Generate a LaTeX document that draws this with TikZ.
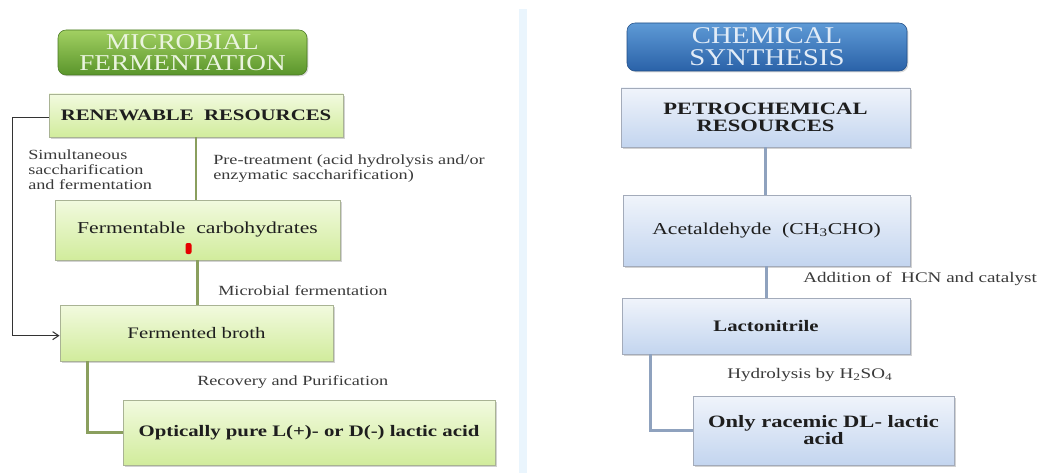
\documentclass[tikz,border=0pt]{standalone}
\usepackage{fontspec}
\setmainfont{Liberation Serif}[FakeStretch=1.3]
\newfontfamily\titlefont{Liberation Serif}[FakeStretch=1.2]
\usetikzlibrary{shadows,arrows.meta}
\definecolor{gtop}{HTML}{F2FADF}
\definecolor{gbot}{HTML}{D1EC9C}
\definecolor{gborder}{HTML}{A9B394}
\definecolor{btop}{HTML}{F0F4FB}
\definecolor{bbot}{HTML}{C3D5EF}
\definecolor{bborder}{HTML}{A3ABBA}
\definecolor{gline}{HTML}{8A9F5E}
\definecolor{bline}{HTML}{8FA2BE}
\definecolor{txt}{HTML}{1E1E1E}
\definecolor{lbl}{HTML}{3A3A3A}
\definecolor{divcol}{HTML}{EAF5FD}
\definecolor{gltop}{HTML}{A2D062}
\definecolor{gdark}{HTML}{5A952B}
\definecolor{gtxt}{HTML}{EAF4DE}
\definecolor{bltop}{HTML}{5E9AD6}
\definecolor{bldark}{HTML}{2A62A8}
\definecolor{btxt}{HTML}{E2ECF7}
\tikzset{
  gbox/.style={rectangle, draw=gborder, line width=0.6pt, top color=gtop, bottom color=gbot,
    inner sep=0pt, align=center, text=txt,
    drop shadow={opacity=0.35, shadow xshift=1.2pt, shadow yshift=-1.2pt}},
  bbox/.style={rectangle, draw=bborder, line width=0.6pt, top color=btop, bottom color=bbot,
    inner sep=0pt, align=center, text=txt,
    drop shadow={opacity=0.35, shadow xshift=1.2pt, shadow yshift=-1.2pt}},
  gtitle/.style={rectangle, rounded corners=6pt, draw=gdark!80!black, line width=0.4pt, top color=gltop, bottom color=gdark,
    inner sep=0pt, align=center, text=gtxt, font=\titlefont\fontsize{17}{15.5}\selectfont,
    drop shadow={opacity=0.3, shadow xshift=1pt, shadow yshift=-1pt}},
  btitle/.style={rectangle, rounded corners=6pt, draw=bldark!80!black, line width=0.4pt, top color=bltop, bottom color=bldark,
    inner sep=0pt, align=center, text=btxt, font=\titlefont\fontsize{18}{16.5}\selectfont,
    drop shadow={opacity=0.3, shadow xshift=1pt, shadow yshift=-1pt}},
  lab/.style={anchor=west, align=left, text=lbl, inner sep=0pt, font=\fontsize{10.5}{11.25}\selectfont},
  gconn/.style={draw=gline, line width=1.8pt},
  bconn/.style={draw=bline, line width=1.8pt},
  kconn/.style={draw=black!80, line width=0.8pt},
}
\begin{document}
\begin{tikzpicture}[x=0.75pt,y=-0.75pt]
\useasboundingbox (0,0) rectangle (1056,474);
\fill[white] (0,0) rectangle (1056,474);
% divider
\fill[divcol] (519,9) rectangle (527,473);

% ---------- left ----------
\node[gtitle, minimum width=186.75pt, minimum height=33.75pt] (mf) at (182.5,52.5) {MICROBIAL\\FERMENTATION};
\node[gbox, minimum width=220.5pt, minimum height=32.25pt, font=\fontsize{12}{12}\selectfont\bfseries] (rr) at (196,115.5) {RENEWABLE\ \ RESOURCES};
\node[gbox, minimum width=213.75pt, minimum height=45pt, font=\fontsize{12.5}{12.5}\selectfont] (fc) at (197.5,230) {Fermentable\ \ carbohydrates};
\node[gbox, minimum width=204.75pt, minimum height=42pt, font=\fontsize{12}{12}\selectfont] (fb) at (196.5,333) {Fermented\ broth};
\node[gbox, minimum width=279pt, minimum height=48.75pt, font=\fontsize{12}{12}\selectfont\bfseries] (op) at (309,432.5) {Optically pure L(+)- or D(-) lactic acid};
\fill[red!90!black, rounded corners=1.5pt] (185.5,243) rectangle (191.5,254);

\node[lab] (l1) at (28,170) {Simultaneous\\saccharification\\and fermentation};
\node[lab] (l2) at (213,168.5) {Pre-treatment (acid hydrolysis and/or\\enzymatic saccharification)};
\node[lab] (l3) at (218,291) {Microbial\ fermentation};
\node[lab] (l4) at (197,382) {Recovery and Purification};

\draw[gconn] (rr.south) -- (rr.south |- fc.north);
\draw[gconn] (fc.south) -- (fc.south |- fb.north);
\draw[gconn] ([xshift=21pt]fb.south west) |- (op.west);
\draw[kconn, -{Straight Barb[length=4.5pt,width=6pt]}] ([yshift=-1.5pt]rr.west) -- ++(-36,0) |- ([yshift=-2pt]fb.west);

% ---------- right ----------
\node[btitle, minimum width=210pt, minimum height=36pt] (cs) at (767,47) {CHEMICAL\\SYNTHESIS};
\node[bbox, minimum width=216.75pt, minimum height=44.25pt, font=\fontsize{13}{12.75}\selectfont\bfseries] (pr) at (765.5,117.5) {PETROCHEMICAL\\RESOURCES};
\node[bbox, minimum width=215.25pt, minimum height=53.25pt, font=\fontsize{12.5}{12.5}\selectfont] (ac) at (766.5,230.5) {Acetaldehyde\ \ (CH\textsubscript{3}CHO)};
\node[bbox, minimum width=216pt, minimum height=42pt, font=\fontsize{12}{12}\selectfont\bfseries] (ln) at (766,326) {Lactonitrile};
\node[bbox, minimum width=195.75pt, minimum height=51.75pt, font=\fontsize{13}{12.75}\selectfont\bfseries] (or) at (823.5,430.5) {Only racemic DL- lactic\\acid};

\node[lab, font=\fontsize{11}{11}\selectfont] (l5) at (803,279) {Addition of\ \ HCN and catalyst};
\node[lab, font=\fontsize{11}{11}\selectfont] (l6) at (727,375) {Hydrolysis by H\textsubscript{2}SO\textsubscript{4}};

\draw[bconn] (pr.south) -- (pr.south |- ac.north);
\draw[bconn] (ac.south) -- (ac.south |- ln.north);
\draw[bconn] ([xshift=21.75pt]ln.south west) |- (or.west);
\end{tikzpicture}
\end{document}
